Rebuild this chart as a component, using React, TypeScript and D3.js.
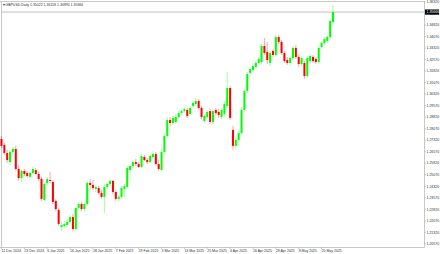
import React from "react";
import * as d3 from "d3";

const barDates = [
  "2024.12.11","2024.12.12","2024.12.13","2024.12.16","2024.12.17","2024.12.18","2024.12.19","2024.12.20","2024.12.23","2024.12.24","2024.12.26","2024.12.27","2024.12.30","2024.12.31",
  "2025.01.02","2025.01.03","2025.01.06","2025.01.07","2025.01.08","2025.01.09","2025.01.10","2025.01.13","2025.01.14","2025.01.15","2025.01.16","2025.01.17","2025.01.20","2025.01.21","2025.01.22","2025.01.23","2025.01.24","2025.01.27","2025.01.28","2025.01.29","2025.01.30","2025.01.31",
  "2025.02.03","2025.02.04","2025.02.05","2025.02.06","2025.02.07","2025.02.10","2025.02.11","2025.02.12","2025.02.13","2025.02.14","2025.02.17","2025.02.18","2025.02.19","2025.02.20","2025.02.21","2025.02.24","2025.02.25","2025.02.26","2025.02.27","2025.02.28",
  "2025.03.03","2025.03.04","2025.03.05","2025.03.06","2025.03.07","2025.03.10","2025.03.11","2025.03.12","2025.03.13","2025.03.14","2025.03.17","2025.03.18","2025.03.19","2025.03.20","2025.03.21","2025.03.24","2025.03.25","2025.03.26","2025.03.27","2025.03.28","2025.03.31",
  "2025.04.01","2025.04.02","2025.04.03","2025.04.04","2025.04.07","2025.04.08","2025.04.09","2025.04.10","2025.04.11","2025.04.14","2025.04.15","2025.04.16","2025.04.17","2025.04.18","2025.04.21","2025.04.22","2025.04.23","2025.04.24","2025.04.25","2025.04.28","2025.04.29","2025.04.30",
  "2025.05.01","2025.05.02","2025.05.05","2025.05.06","2025.05.07","2025.05.08","2025.05.09","2025.05.12","2025.05.13","2025.05.14","2025.05.15","2025.05.16","2025.05.19","2025.05.20","2025.05.21","2025.05.22","2025.05.23","2025.05.26",
];

const open = [
  1.2740,1.2701,1.2649,1.2590,1.2656,1.2675,1.2545,1.2486,1.2532,1.2519,1.2493,1.2519,1.2538,1.2512,
  1.2480,1.2343,1.2454,1.2473,1.2460,1.2337,1.2278,1.2167,1.2174,1.2180,1.2200,1.2232,1.2154,1.2291,1.2317,1.2284,1.2317,1.2454,1.2441,1.2415,1.2421,1.2389,
  1.2363,1.2428,1.2447,1.2467,1.2395,1.2350,1.2363,1.2415,1.2428,1.2538,1.2564,1.2590,1.2577,1.2558,1.2623,1.2603,1.2590,1.2623,1.2642,1.2577,
  1.2538,1.2656,1.2760,1.2864,1.2844,1.2851,1.2883,1.2909,1.2922,1.2929,1.2903,1.2955,1.2968,1.2987,1.2942,1.2857,1.2883,1.2922,1.2851,1.2929,1.2916,
  1.2883,1.2903,1.2955,1.3072,1.2799,1.2695,1.2734,1.2779,1.2929,1.3053,1.3170,1.3189,1.3209,1.3235,1.3241,1.3346,1.3306,1.3235,1.3313,1.3287,1.3404,1.3372,
  1.3300,1.3254,1.3235,1.3267,1.3333,1.3274,1.3228,1.3235,1.3150,1.3248,1.3274,1.3261,1.3241,1.3339,1.3365,1.3378,1.3404,1.3502,
];
const high = [
  1.2760,1.2714,1.2669,1.2669,1.2688,1.2695,1.2571,1.2538,1.2545,1.2532,1.2525,1.2558,1.2551,1.2525,
  1.2493,1.2460,1.2493,1.2525,1.2473,1.2350,1.2291,1.2200,1.2206,1.2219,1.2245,1.2252,1.2297,1.2330,1.2330,1.2324,1.2467,1.2480,1.2473,1.2441,1.2434,1.2408,
  1.2447,1.2460,1.2480,1.2473,1.2408,1.2376,1.2434,1.2447,1.2564,1.2577,1.2603,1.2610,1.2590,1.2642,1.2636,1.2616,1.2636,1.2662,1.2656,1.2603,
  1.2675,1.2779,1.2883,1.2883,1.2890,1.2903,1.2922,1.2935,1.2948,1.2942,1.2955,1.2987,1.3007,1.3001,1.2955,1.2903,1.2929,1.2935,1.2935,1.2942,1.2935,
  1.2942,1.2987,1.3176,1.3085,1.2825,1.2753,1.2799,1.2948,1.3066,1.3176,1.3209,1.3235,1.3248,1.3274,1.3359,1.3398,1.3372,1.3313,1.3326,1.3417,1.3417,1.3385,
  1.3313,1.3274,1.3280,1.3346,1.3352,1.3287,1.3280,1.3248,1.3280,1.3293,1.3287,1.3274,1.3346,1.3378,1.3404,1.3417,1.3521,1.3612,
];
const low = [
  1.2682,1.2636,1.2584,1.2571,1.2642,1.2532,1.2467,1.2460,1.2499,1.2486,1.2486,1.2512,1.2506,1.2467,
  1.2337,1.2337,1.2441,1.2454,1.2317,1.2271,1.2174,1.2141,1.2161,1.2167,1.2187,1.2141,1.2141,1.2278,1.2271,1.2265,1.2304,1.2408,1.2408,1.2395,1.2376,1.2350,
  1.2258,1.2415,1.2434,1.2382,1.2337,1.2337,1.2350,1.2356,1.2415,1.2519,1.2551,1.2564,1.2551,1.2551,1.2597,1.2577,1.2584,1.2616,1.2571,1.2532,
  1.2532,1.2642,1.2747,1.2825,1.2831,1.2838,1.2870,1.2896,1.2909,1.2877,1.2890,1.2942,1.2955,1.2929,1.2870,1.2844,1.2870,1.2838,1.2838,1.2896,1.2877,
  1.2870,1.2883,1.2942,1.2864,1.2669,1.2675,1.2695,1.2766,1.2916,1.3040,1.3157,1.3176,1.3196,1.3228,1.3228,1.3287,1.3228,1.3215,1.3274,1.3274,1.3359,1.3287,
  1.3235,1.3222,1.3222,1.3254,1.3261,1.3209,1.3215,1.3131,1.3137,1.3228,1.3235,1.3228,1.3228,1.3326,1.3352,1.3365,1.3391,1.3489,
];
const close = [
  1.2695,1.2649,1.2603,1.2656,1.2675,1.2545,1.2486,1.2532,1.2512,1.2499,1.2519,1.2545,1.2512,1.2480,
  1.2350,1.2447,1.2480,1.2467,1.2330,1.2284,1.2187,1.2180,1.2187,1.2200,1.2232,1.2154,1.2291,1.2317,1.2284,1.2317,1.2454,1.2441,1.2421,1.2428,1.2389,1.2363,
  1.2428,1.2447,1.2467,1.2395,1.2350,1.2363,1.2421,1.2434,1.2551,1.2564,1.2590,1.2577,1.2558,1.2629,1.2603,1.2590,1.2629,1.2642,1.2577,1.2545,
  1.2656,1.2760,1.2864,1.2844,1.2877,1.2883,1.2909,1.2922,1.2935,1.2890,1.2942,1.2974,1.2987,1.2942,1.2883,1.2890,1.2916,1.2851,1.2922,1.2909,1.2896,
  1.2929,1.2968,1.3072,1.2877,1.2695,1.2734,1.2779,1.2929,1.3053,1.3163,1.3196,1.3215,1.3235,1.3261,1.3346,1.3300,1.3254,1.3300,1.3287,1.3404,1.3372,1.3300,
  1.3248,1.3235,1.3267,1.3333,1.3274,1.3228,1.3267,1.3150,1.3267,1.3280,1.3248,1.3241,1.3333,1.3365,1.3391,1.3404,1.3508,1.3567,
];

const priceTicks = [
  1.3632, 1.3557, 1.3482, 1.3407, 1.3332, 1.3257, 1.3182, 1.3107, 1.3032, 1.2957, 1.2882,
  1.2807, 1.2732, 1.2657, 1.2582, 1.2507, 1.2432, 1.2357, 1.2282, 1.2207, 1.2132, 1.2057,
];
const timeTicks = [
  "2024.12.11","2024.12.23","2025.01.06","2025.01.16","2025.01.28","2025.02.07","2025.02.19","2025.03.03",
  "2025.03.13","2025.03.25","2025.04.04","2025.04.16","2025.04.28","2025.05.08","2025.05.20",
];
const currentPrice = 1.35666;
const titleText = "GBPUSD,Daily  1.35022 1.36118 1.34890 1.35666";
const monthNames = ["Jan","Feb","Mar","Apr","May","Jun","Jul","Aug","Sep","Oct","Nov","Dec"];

const W = 440, H = 254;
const plotRight = 424.5;
const plotBottom = 247.5;
const UP = "#00ff00";
const DOWN = "#ff0000";
const FONT = "'Liberation Sans', Arial, sans-serif";

function fmtDate(s: string) {
  const [y, m, d] = s.split(".");
  return `${+d} ${monthNames[+m - 1]} ${y}`;
}

export default function App() {
  const x = d3.scaleLinear().domain([0, barDates.length - 1]).range([1.5, 333]);
  const y = d3.scaleLinear().domain([1.2057, 1.3632]).range([243.9, 2]);

  return (
    <svg width={W} height={H} style={{ position: "absolute", left: 0, top: 0, background: "#fff" }}
      xmlns="http://www.w3.org/2000/svg">
      <rect x={0} y={0} width={W} height={H} fill="#ffffff" />
      {/* frame */}
      <line x1={0} x2={plotRight} y1={1.5} y2={1.5} stroke="#c8c8c8" strokeWidth={1} />
      <line x1={1.5} x2={1.5} y1={1} y2={plotBottom} stroke="#c8c8c8" strokeWidth={1} />
      <line x1={plotRight} x2={plotRight} y1={1} y2={plotBottom} stroke="#c8c8c8" strokeWidth={1} />
      <line x1={0} x2={plotRight} y1={plotBottom} y2={plotBottom} stroke="#c8c8c8" strokeWidth={1} />
      {/* current price line */}
      <line x1={1.5} x2={plotRight} y1={y(currentPrice)} y2={y(currentPrice)} stroke="#c0c0c0" strokeWidth={1} />
      {/* candles */}
      {barDates.map((d, i) => {
        const up = close[i] >= open[i];
        const col = up ? UP : DOWN;
        const cx = x(i);
        const top = y(Math.max(open[i], close[i]));
        const bot = y(Math.min(open[i], close[i]));
        return (
          <g key={d}>
            <line x1={cx} x2={cx} y1={y(high[i])} y2={y(low[i])} stroke={col} strokeOpacity={0.45} strokeWidth={0.8} />
            <rect x={cx - 1} y={top} width={2} height={Math.max(1, bot - top)} fill={col} />
          </g>
        );
      })}
      {/* price axis labels */}
      {priceTicks.map((p) => (
        <g key={p}>
          <line x1={plotRight} x2={plotRight + 1.5} y1={y(p)} y2={y(p)} stroke="#999" strokeWidth={0.5} />
          <text x={426.5} y={y(p)} dy="0.35em" fontSize={3.5} fontFamily={FONT} fill="#333">
            {p.toFixed(5)}
          </text>
        </g>
      ))}
      {/* current price tag */}
      <rect x={425} y={y(currentPrice) - 2.6} width={14} height={5.2} fill="#000" />
      <text x={426.5} y={y(currentPrice)} dy="0.35em" fontSize={3.5} fontFamily={FONT} fill="#fff">
        {currentPrice.toFixed(5)}
      </text>
      {/* time axis labels */}
      {timeTicks.map((t) => {
        const i = barDates.indexOf(t);
        const tx = x(i);
        return (
          <g key={t}>
            <line x1={tx} x2={tx} y1={plotBottom} y2={plotBottom + 1.5} stroke="#999" strokeWidth={0.5} />
            <text x={tx} y={252} fontSize={3.5} fontFamily={FONT} fill="#333">
              {fmtDate(t)}
            </text>
          </g>
        );
      })}
      {/* title */}
      <text x={2.5} y={5.8} fontSize={3.5} fontFamily={FONT} fill="#333">
        {"\u25BE " + titleText}
      </text>
    </svg>
  );
}
